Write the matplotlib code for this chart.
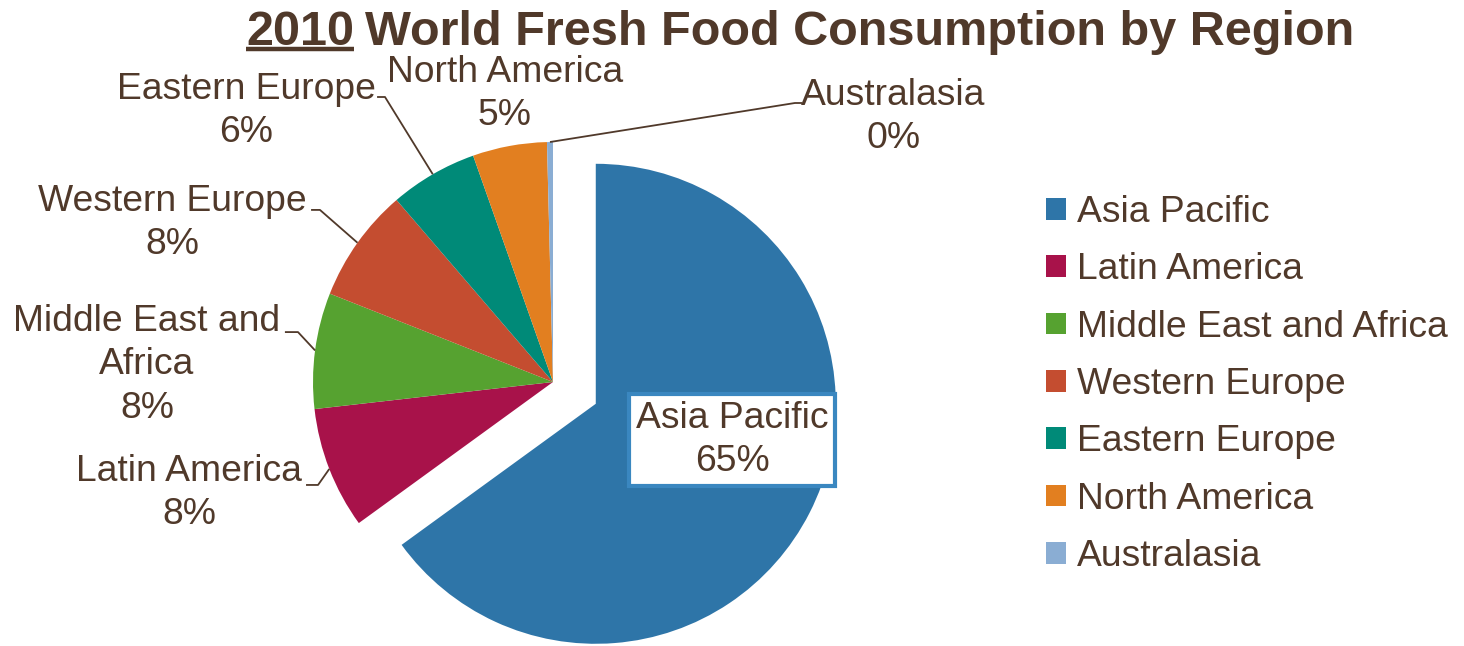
import matplotlib
matplotlib.use("Agg")
import matplotlib.pyplot as plt
from matplotlib import font_manager
from matplotlib.lines import Line2D
import numpy as np

# region shares (percent), clockwise from 12 o'clock
regions = ["Asia Pacific", "Latin America", "Middle East and Africa",
           "Western Europe", "Eastern Europe", "North America", "Australasia"]
shares = [65.0, 8.2, 7.8, 7.7, 5.9, 5.0, 0.4]
colors = ["#2E75A8", "#A8124A", "#56A230", "#C44D30", "#008A78", "#E27F20", "#8AADD3"]
explode = [0.2, 0, 0, 0, 0, 0, 0]

# label text as shown on the chart (line breaks included)
label_names = ["Asia Pacific", "Latin America", "Middle East and\nAfrica",
               "Western Europe", "Eastern Europe", "North America", "Australasia"]

# label anchor (x, y) and leader elbow/start in data units (radius = 1)
label_pos = [(0.746, -0.242), (-1.517, -0.4625), (-1.692, 0.071),
             (-1.5875, 0.6625), (-1.279, 1.129), (-0.20, 1.20), (1.417, 1.104)]
leader = [None,
          ((-0.979, -0.429), (-1.029, -0.429)),
          ((-1.0625, 0.208), (-1.117, 0.208)),
          ((-0.971, 0.717), (-1.008, 0.717)),
          ((-0.700, 1.1875), (-0.733, 1.1875)),
          None,
          ((1.008, 1.1625), (1.0375, 1.1625))]

BROWN = "#50392A"
W, H = 1464, 646
R_PX = 240          # pie radius in pixels
CX, CY = 553, 264   # pie centre in pixels (from bottom)
FS = 26.8
LSP = 1.3

plt.rcParams["font.family"] = ["Liberation Sans", "DejaVu Sans"]


def narrow_family():
    for fam in ["Liberation Sans Narrow", "Arial Narrow"]:
        try:
            font_manager.findfont(fam, fallback_to_default=False)
            return [fam, "Liberation Sans", "DejaVu Sans"]
        except Exception:
            pass
    return ["Liberation Sans", "DejaVu Sans"]


fig = plt.figure(figsize=(W / 100, H / 100), dpi=100)
fig.patch.set_facecolor("white")

# axes sized so that one data unit equals R_PX pixels in both directions
xl, xr, yb, yt = -2.3, 2.3, -1.1, 1.6
ax = fig.add_axes([(CX + xl * R_PX) / W, (CY + yb * R_PX) / H,
                   (xr - xl) * R_PX / W, (yt - yb) * R_PX / H])

wedges, _ = ax.pie(shares, colors=colors, explode=explode, startangle=90,
                   counterclock=False, radius=1.0,
                   wedgeprops=dict(linewidth=0, antialiased=True))
ax.set_aspect("auto")
ax.set_xlim(xl, xr)
ax.set_ylim(yb, yt)
ax.axis("off")

total = sum(shares)
for i, (w, name) in enumerate(zip(wedges, label_names)):
    pct = f"{shares[i] / total * 100:.0f}%"
    lx, ly = label_pos[i]
    if i == 0:
        ax.text(lx, ly, f"{name}\n{pct}", ha="center", va="center",
                fontsize=FS, color=BROWN, linespacing=LSP,
                bbox=dict(boxstyle="square,pad=0.18", fc="white",
                          ec="#3A87C0", lw=3))
        continue
    ax.text(lx, ly, f"{name}\n{pct}", ha="center", va="center",
            fontsize=FS, color=BROWN, linespacing=LSP)
    if leader[i] is not None:
        mid = np.deg2rad((w.theta1 + w.theta2) / 2)
        rx, ry = np.cos(mid), np.sin(mid)
        (ex, ey), (sx, sy) = leader[i]
        ax.plot([rx, ex, sx], [ry, ey, sy], color=BROWN, lw=1.3,
                solid_capstyle="butt", clip_on=False)

# legend on the right
fig.legend(wedges, regions, loc="upper left",
           bbox_to_anchor=(1046 / W, (H - 195) / H), frameon=False,
           fontsize=FS, labelcolor=BROWN, handlelength=0.53,
           handleheight=0.53, handletextpad=0.3, labelspacing=0.6,
           borderpad=0, borderaxespad=0)

# title: underlined year followed by the rest
fig.canvas.draw()
renderer = fig.canvas.get_renderer()
tfam = narrow_family()
ty = (H - 45) / H
t1 = fig.text(0, ty, "2010", fontsize=35, fontweight="bold", color=BROWN,
              family=tfam, va="baseline", ha="left")
t2 = fig.text(0, ty, "World Fresh Food Consumption by Region", fontsize=35,
              fontweight="bold", color=BROWN, family=tfam, va="baseline",
              ha="left")
w1 = t1.get_window_extent(renderer).width
w2 = t2.get_window_extent(renderer).width
gap = 11
x0 = 800 - (w1 + gap + w2) / 2
t1.set_x(x0 / W)
t2.set_x((x0 + w1 + gap) / W)
fig.add_artist(Line2D([x0 / W, (x0 + w1) / W], [(H - 49) / H, (H - 49) / H],
                      color=BROWN, lw=3.2, solid_capstyle="butt"))

fig.savefig("out.png", dpi=100, facecolor="white")
